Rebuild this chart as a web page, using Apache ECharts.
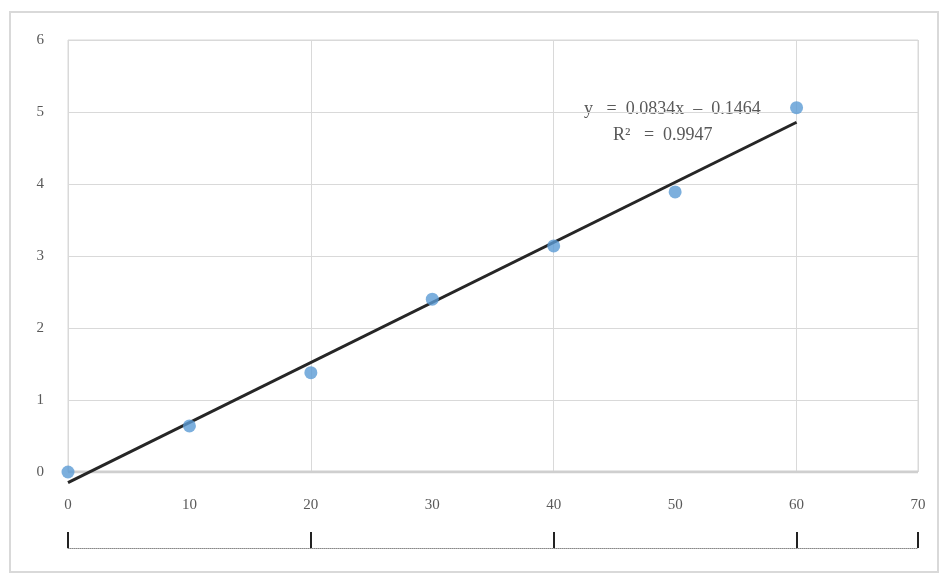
<!DOCTYPE html>
<html>
<head>
<meta charset="utf-8">
<script src="https://cdn.jsdelivr.net/npm/echarts@6/dist/echarts.min.js"></script>
<style>
  html, body { margin: 0; padding: 0; background: #fff; }
  #chart { width: 948px; height: 577px; }
</style>
</head>
<body>
<div id="chart"></div>
<script>
// measured points
var xValues = [0, 10, 20, 30, 40, 50, 60];
var yValues = [0.0, 0.64, 1.38, 2.4, 3.14, 3.89, 5.06];
// linear trendline shown on the chart
var slope = 0.0834;
var intercept = -0.1464;
var equationText = 'y   =  0.0834x  \u2013  0.1464';
var r2Text = 'R\u00b2   =  0.9947';

var points = xValues.map(function (x, i) { return [x, yValues[i]]; });
var trend = [[0, intercept], [60, slope * 60 + intercept]];

var myChart = echarts.init(document.getElementById('chart'));

var option = {
  backgroundColor: '#fff',
  animation: false,
  grid: {
    left: 68, right: 30, top: 40, bottom: 105,
    show: true, borderColor: '#d9d9d9', borderWidth: 1
  },
  xAxis: [{
    type: 'value', min: 0, max: 70, interval: 10,
    axisLine: { show: false },
    axisTick: { show: false },
    splitLine: { show: false },
    axisLabel: {
      color: '#595959', fontFamily: 'Liberation Serif', fontSize: 15, margin: 26
    }
  }, {
    // only the vertical gridlines (every 20) and the dotted strip below
    type: 'value', min: 0, max: 70, interval: 20,
    position: 'bottom', offset: 76,
    axisLine: { show: true, lineStyle: { color: '#888', type: 'dotted', width: 1 } },
    axisTick: { show: true, inside: true, length: 16, lineStyle: { color: '#222', width: 2 } },
    axisLabel: { show: false },
    splitLine: { show: true, lineStyle: { color: '#d9d9d9', width: 1 } }
  }],
  yAxis: {
    type: 'value', min: 0, max: 6, interval: 1,
    axisLine: { show: false },
    axisTick: { show: false },
    axisLabel: {
      color: '#595959', fontFamily: 'Liberation Serif', fontSize: 15, margin: 24
    },
    splitLine: { lineStyle: { color: '#d9d9d9', width: 1 } }
  },
  series: [{
    type: 'line',
    data: [[0, 0], [70, 0]],
    symbol: 'none', silent: true,
    lineStyle: { color: '#cfcfcf', width: 3 },
    z: 1
  }, {
    type: 'line',
    data: trend,
    symbol: 'none',
    clip: false,
    lineStyle: { color: '#262626', width: 3 },
    z: 3
  }, {
    type: 'scatter',
    data: points,
    symbolSize: 13,
    clip: false,
    itemStyle: { color: '#5b9bd5' },
    z: 4
  }],
  graphic: [{
    type: 'rect',
    shape: { x: 10, y: 12, width: 928, height: 560 },
    style: { fill: 'none', stroke: '#d9d9d9', lineWidth: 2 },
    silent: true
  }, {
    type: 'text', left: 584, top: 100,
    style: { text: equationText, fill: '#595959', font: '18px "Liberation Serif"' }
  }, {
    type: 'text', left: 613, top: 126,
    style: { text: r2Text, fill: '#595959', font: '18px "Liberation Serif"' }
  }]
};

myChart.setOption(option);
</script>
</body>
</html>
